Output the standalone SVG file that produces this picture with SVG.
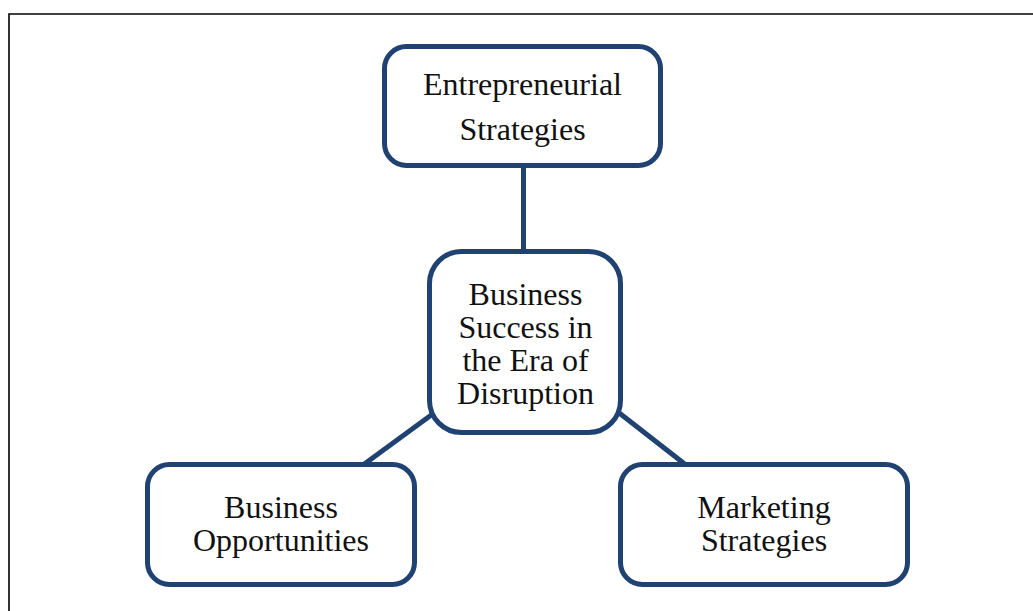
<svg xmlns="http://www.w3.org/2000/svg" width="1033" height="611" viewBox="0 0 1033 611">
  <style>
    .box { fill: #ffffff; stroke: #1f4272; stroke-width: 5; }
    .link { stroke: #1f4272; stroke-width: 5; fill: none; }
    .label { font-family: "Liberation Serif", "Times New Roman", serif; font-size: 32px; fill: #111111; text-anchor: middle; }
  </style>
  <rect width="1033" height="611" fill="#ffffff"/>
  <!-- page frame, open to the right and bottom -->
  <path d="M9 611 V14 H1033" fill="none" stroke="#000000" stroke-width="1.6"/>

  <g id="connectors">
    <line class="link" x1="523.5" y1="165" x2="523.5" y2="252"/>
    <line class="link" x1="434" y1="413" x2="363" y2="465"/>
    <line class="link" x1="618" y1="412" x2="686" y2="465"/>
  </g>

  <g id="node-entrepreneurial">
    <rect class="box" x="384.5" y="46.5" width="276" height="119" rx="22"/>
    <text class="label" x="522.5" y="95">Entrepreneurial</text>
    <text class="label" x="522.5" y="140">Strategies</text>
  </g>

  <g id="node-business-success">
    <rect class="box" x="429.5" y="251.5" width="191" height="181" rx="32"/>
    <text class="label" x="525.5" y="305">Business</text>
    <text class="label" x="525.5" y="338">Success in</text>
    <text class="label" x="525.5" y="371">the Era of</text>
    <text class="label" x="525.5" y="404">Disruption</text>
  </g>

  <g id="node-business-opportunities">
    <rect class="box" x="147.5" y="464.5" width="267" height="120" rx="22"/>
    <text class="label" x="281" y="518">Business</text>
    <text class="label" x="281" y="551">Opportunities</text>
  </g>

  <g id="node-marketing">
    <rect class="box" x="620.5" y="464.5" width="287" height="120" rx="22"/>
    <text class="label" x="764" y="518">Marketing</text>
    <text class="label" x="764" y="551">Strategies</text>
  </g>
</svg>
